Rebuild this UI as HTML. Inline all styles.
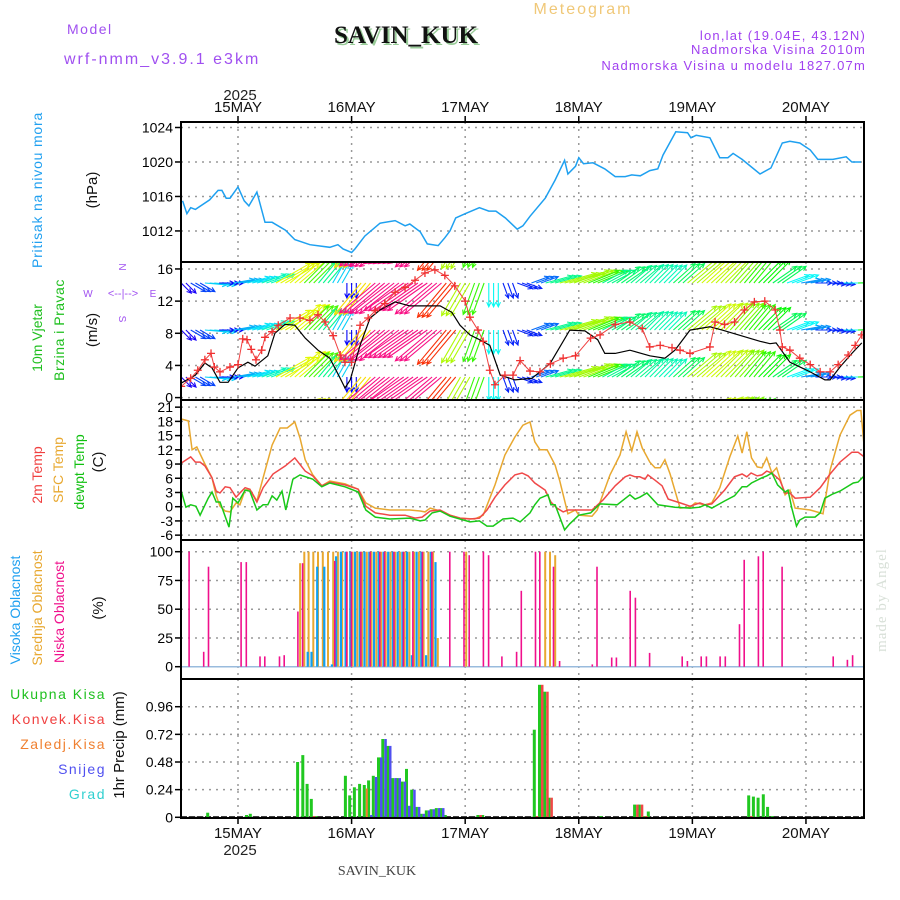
<!DOCTYPE html>
<html><head><meta charset="utf-8"><style>
html,body{margin:0;padding:0;background:#fff;}
svg{display:block;font-family:"Liberation Sans",sans-serif;}
</style></head><body>
<svg id="chart" width="900" height="900" viewBox="0 0 900 900" xmlns="http://www.w3.org/2000/svg">
<rect width="900" height="900" fill="#fff"/>
<defs>
<clipPath id="c1"><rect x="181" y="122" width="683" height="140"/></clipPath>
<clipPath id="c2"><rect x="181" y="262" width="683" height="138"/></clipPath>
<clipPath id="c3"><rect x="181" y="400" width="683" height="140"/></clipPath>
<clipPath id="c4"><rect x="181" y="540" width="683" height="139"/></clipPath>
<clipPath id="c5"><rect x="181" y="679" width="683" height="139"/></clipPath>
</defs>
<!-- header -->
<text x="67" y="34" font-size="14" fill="#a050f0" letter-spacing="1.5">Model</text>
<text x="64" y="64" font-size="16" fill="#a050f0" letter-spacing="2">wrf-nmm_v3.9.1 e3km</text>
<text x="408" y="45" font-size="25" font-weight="bold" font-family="Liberation Serif, serif" text-anchor="middle" fill="#9c9" >SAVIN_KUK</text>
<text x="406" y="43" font-size="25" font-weight="bold" font-family="Liberation Serif, serif" text-anchor="middle" fill="#111">SAVIN_KUK</text>
<text x="583" y="14" font-size="16" fill="#f0c878" text-anchor="middle" letter-spacing="2">Meteogram</text>
<text x="866" y="40" font-size="13" fill="#a040f0" text-anchor="end" letter-spacing="1.2">lon,lat (19.04E, 43.12N)</text>
<text x="866" y="54" font-size="13" fill="#a040f0" text-anchor="end" letter-spacing="1.2">Nadmorska Visina 2010m</text>
<text x="866" y="70" font-size="13" fill="#a040f0" text-anchor="end" letter-spacing="1.2">Nadmorska Visina u modelu 1827.07m</text>
<text x="240" y="100" font-size="15" fill="#222" text-anchor="middle">2025</text>
<!-- left labels -->
<text transform="translate(42,190) rotate(-90)" font-size="14" fill="#20a0f0" text-anchor="middle" letter-spacing="0.8">Pritisak na nivou mora</text>
<text transform="translate(97,190) rotate(-90)" font-size="15" fill="#111" text-anchor="middle">(hPa)</text>
<text transform="translate(42,338) rotate(-90)" font-size="14" fill="#20c020" text-anchor="middle">10m Vjetar</text>
<text transform="translate(64,330) rotate(-90)" font-size="14" fill="#20c020" text-anchor="middle" letter-spacing="0.5">Brzina i Pravac</text>
<text transform="translate(97,330) rotate(-90)" font-size="15" fill="#111" text-anchor="middle">(m/s)</text>
<g fill="#a050f0" stroke="none" font-size="10">
<text x="123" y="271" text-anchor="middle" transform="rotate(90,123,267)">N</text>
<text x="88" y="297" text-anchor="middle">W</text>
<text x="153" y="297" text-anchor="middle">E</text>
<text x="123" y="323" text-anchor="middle" transform="rotate(90,123,319)">S</text>
<text x="123" y="297" text-anchor="middle" font-size="11">&lt;--|--&gt;</text>
</g>
<text transform="translate(42,475) rotate(-90)" font-size="14" fill="#f04040" text-anchor="middle">2m Temp</text>
<text transform="translate(63,470) rotate(-90)" font-size="14" fill="#e8a830" text-anchor="middle">SFC Temp</text>
<text transform="translate(84,472) rotate(-90)" font-size="14" fill="#10c010" text-anchor="middle">dewpt Temp</text>
<text transform="translate(103,462) rotate(-90)" font-size="15" fill="#111" text-anchor="middle">(C)</text>
<text transform="translate(20,610) rotate(-90)" font-size="14" fill="#20a0f0" text-anchor="middle">Visoka Oblacnost</text>
<text transform="translate(42,608) rotate(-90)" font-size="14" fill="#e8a830" text-anchor="middle">Srednja Oblacnost</text>
<text transform="translate(64,612) rotate(-90)" font-size="14" fill="#f0108c" text-anchor="middle">Niska Oblacnost</text>
<text transform="translate(103,608) rotate(-90)" font-size="15" fill="#111" text-anchor="middle">(%)</text>
<text x="106" y="699" font-size="14" fill="#20c020" text-anchor="end" letter-spacing="1.5">Ukupna Kisa</text>
<text x="106" y="724" font-size="14" fill="#f04040" text-anchor="end" letter-spacing="1.5">Konvek.Kisa</text>
<text x="106" y="749" font-size="14" fill="#f08030" text-anchor="end" letter-spacing="1.5">Zaledj.Kisa</text>
<text x="106" y="774" font-size="14" fill="#5050f0" text-anchor="end" letter-spacing="1.5">Snijeg</text>
<text x="106" y="799" font-size="14" fill="#30d0d0" text-anchor="end" letter-spacing="1.5">Grad</text>
<text transform="translate(124,745) rotate(-90)" font-size="15" fill="#111" text-anchor="middle">1hr Precip (mm)</text>
<text x="240" y="855" font-size="15" fill="#222" text-anchor="middle">2025</text>
<text x="377" y="875" font-size="14" font-family="Liberation Serif, serif" fill="#444" text-anchor="middle">SAVIN_KUK</text>
<text transform="translate(886,600) rotate(-90)" font-size="15" font-family="Liberation Serif, serif" fill="#d8e0d8" text-anchor="middle" letter-spacing="1">made by Angel</text>
<g id="grid"></g>
<g id="marks"></g>
<g id="frames"></g>
</svg>
<script>
// ---- data ----
const dayLabels = ["15MAY","16MAY","17MAY","18MAY","19MAY","20MAY"];
const dayHours = [0,24,48,72,96,120];
const presTicks = [1012,1016,1020,1024];
const windTicks = [0,4,8,12,16];
const tempTicks = [-6,-3,0,3,6,9,12,15,18,21];
const cloudTicks = [0,25,50,75,100];
const precipTicks = [0,0.24,0.48,0.72,0.96];
const precipTickLabels = ["0","0.24","0.48","0.72","0.96"];

const presHours = [-11.7,-10.8,-10,-9,-6,-4.2,-3.4,-2.5,-1.7,0,1.3,2.3,4,5.7,7.2,10,12,15.2,19.4,21.1,22.2,24,24.7,26.8,30,33.2,35.3,36.3,38.5,40,42.3,43.7,44.8,46,48,51,53,54.5,56.5,59,60.2,61.7,64.9,67,69,69.7,71.3,72,73,75,77.5,79.7,81.8,83.2,85,87,88.7,89.8,92.5,95,95.7,96.8,99.7,101.8,103.5,104.6,106.5,110.3,112.6,115,116.6,118.7,120.9,122.5,125.7,128.5,129.7,131.6];
const presVals = [1015.5,1014.0,1014.7,1014.5,1015.6,1016.7,1016.7,1015.8,1015.8,1017.1,1015.5,1014.9,1016.5,1013.0,1013.0,1012.1,1011.0,1010.4,1010.1,1010.4,1009.9,1009.5,1009.9,1011.4,1012.9,1013.2,1012.6,1012.8,1011.9,1010.5,1010.3,1011.2,1012.0,1013.5,1014.0,1014.7,1014.3,1014.3,1013.5,1012.2,1012.6,1013.7,1015.8,1017.9,1020.2,1018.6,1019.5,1020.5,1019.8,1019.9,1019.2,1018.3,1018.3,1018.5,1018.4,1019.0,1019.2,1020.8,1023.5,1023.4,1022.8,1023.1,1022.8,1020.5,1020.5,1021.0,1020.3,1018.6,1019.3,1022.2,1022.4,1022.2,1021.4,1020.3,1020.3,1020.6,1020.0,1020.0];

const gustHours = [-12,-10,-8.5,-7,-5.7,-5,-3.8,-1.7,0,1,1.9,2.8,3.8,5,5.7,7.2,8.5,11,13.1,15.2,16.9,18.4,20.1,21.6,22.6,24,25.8,27.5,29,31,33.2,35.3,37.4,39.5,41.6,43.7,45.8,48,49,50.7,51.8,53.2,54.3,56.4,58.1,59.6,61.7,63.8,66,68.7,71.3,74.5,76.5,79.7,82.8,85.4,87,89.2,91.7,93.4,95.5,99.7,100.8,102.8,104.9,107,109.1,111.3,113.5,114.5,115,116.6,118.7,120.9,123,125.1,126.8,128.9,130.4,131.8];
const gustVals = [1.4,2.4,3.4,4.7,5.5,3.8,3.2,3.8,4.1,7.3,7.2,6.0,4.7,5.9,7.5,8.2,9.0,9.9,9.9,9.6,10.3,9.4,7.7,5.3,4.4,4.4,9.0,9.9,10.8,11.7,13.1,13.7,14.6,15.5,15.9,15.2,13.9,12.0,10.0,8.4,7.0,3.4,1.6,2.8,2.8,4.6,3.3,3.2,4.2,4.9,5.2,7.4,7.8,9.1,9.4,8.6,6.3,6.5,6.2,5.9,5.5,6.3,9.4,9.1,9.4,10.9,11.9,12.0,10.9,8.4,6.3,5.9,4.9,4.1,3.2,3.2,4.1,5.3,6.5,7.8];

const meanHours = [-12,-9,-7,-5.5,-3.8,-2.1,0,2.1,3.6,6.3,7.8,9.9,12,14.2,16.9,19.4,21.6,22.6,23.7,25.8,27.9,30,33.2,36.3,39.5,42.7,45.2,46.9,49,50.7,53.2,55.4,58.5,62.1,65.9,70.1,73.3,76,77.5,79.7,82.8,87,90.2,92.3,95.5,99.7,102.3,110.3,112.4,113.7,116.6,120.9,124,125.1,127.2,129.7,131.8];
const meanVals = [1.8,2.8,4.3,3.7,1.9,1.9,3.7,4.4,3.9,5.2,8.0,9.1,9.0,7.4,5.9,4.9,2.4,1.2,2.2,6.5,9.9,10.9,11.9,11.4,11.4,11.4,10.6,9.0,7.8,7.3,6.5,2.8,2.2,2.4,4.2,8.4,8.3,7.2,5.5,5.5,5.9,5.2,4.9,5.9,8.4,8.8,8.4,7.0,6.7,6.8,4.4,3.2,2.2,2.2,3.8,5.5,6.8];

const windHours = [-12,-9,-6,-3,0,3,6,9,12,15,18,21,24,27,30,33,36,39,42,45,48,51,54,57,60,63,66,69,72,75,78,81,84,87,90,93,96,99,102,105,108,111,114,117,120,123,126,129,132];
const windDir = [135,120,95,90,80,75,70,60,50,45,40,30,180,220,230,232,235,235,230,220,210,200,180,160,110,70,75,75,70,68,62,55,50,45,45,48,50,48,45,42,40,45,55,70,80,90,95,90,88];
const windSpd = [1.8,2.6,4.0,2.0,3.7,4.2,5.0,9.0,9.0,7.5,5.5,4.0,2.0,9.5,11,11.9,11.5,11.4,11.4,10.5,8.5,7.3,4.5,2.3,2.3,3.0,5.5,8.4,8.3,7.2,5.5,5.8,5.5,5.2,5.0,6.0,8.4,8.8,8.6,8.0,7.2,6.8,6.0,4.4,3.4,2.4,2.3,4.5,6.8];

const t2Hours = [-12,-10,-9,-8,-7,-5.5,-4.6,-3.8,-2.7,-1.7,-0.4,0.4,1.5,2.5,4,5.3,7.4,10,12,14.2,15.8,17.7,19.4,22.6,25.4,27,29,32.1,35.3,37.4,38.9,40.6,42.7,44.8,46.9,49,51,52.6,54.3,56.4,58.5,60,61.3,62.7,64.9,66.1,67.4,68.7,69.7,72,74.8,77.1,79.7,81.8,82.8,83.9,84.9,86,86.6,88.1,89.6,90.9,93.4,95.5,97.6,98.7,100.1,102.8,104.9,106.5,107.5,108.4,109.7,110.7,111.7,112.8,114.5,115.6,116.6,117.7,120.9,123,125.1,127.2,129.7,131,132.3];
const t2Vals = [9.2,10.5,9.4,9.4,8.6,6.1,3.3,2.9,4.2,4.0,2.0,2.9,4.0,3.7,1.0,4.0,6.9,8.6,10.3,7.5,6.5,4.4,5.2,4.6,3.7,0.1,-1.3,-1.8,-1.8,-2.4,-2.2,-0.9,-0.7,-1.8,-2.4,-2.6,-2.4,-0.7,2.0,4.6,6.7,7.1,6.5,5.0,3.5,1.0,-0.3,-1.1,-0.7,-0.7,-0.7,1.4,4.4,6.3,6.7,6.3,6.3,5.8,6.7,5.6,4.4,1.6,0.8,0.1,0.8,0.4,0.6,3.5,6.3,6.9,6.3,7.1,6.5,6.7,7.5,7.1,5.6,2.9,2.9,1.8,2.0,4.0,6.9,9.4,11.5,11.5,10.5];

const sfcHours = [-12,-10.5,-9.7,-8.7,-7,-5.5,-4.6,-3.8,-2.7,-1.7,-0.4,0.4,1.5,2.5,4,5.3,7.2,8.9,10.4,12,13.1,14.2,15.8,17.7,19.4,22.6,25.4,27,29,32.1,36.3,38.5,39.5,40.6,42.7,44.8,46.9,50,51.8,53.2,54.3,56.4,58.5,60.2,61.7,62.7,63.8,65.3,67,68,69.7,71.3,72,74.8,75.9,78.6,80.7,82,83.2,84.3,85.4,87,88.1,89.2,90.2,91.3,93.4,95.5,96.6,98.7,100.1,101.8,103.9,105.6,106.5,107.5,108.5,109.7,110.7,111.7,112.8,113.8,115.6,116.6,117.7,120.9,123,123.6,125.1,127.2,129.3,130.8,131.6,132.3];
const sfcVals = [18.5,18.1,12,12.6,9.0,6.1,2.3,0.1,-0.9,-1.1,0.8,0.4,3.5,3.7,1.2,6.1,13,16.6,16.6,17.9,14.5,9.9,6.7,4.4,5.4,4.8,3.7,0.8,-0.3,-0.7,-0.7,-0.9,-1.1,-0.3,-0.9,-1.8,-2.4,-2.6,-1.8,1.8,4.6,10.9,14.7,17.2,17.9,13.7,12,12,8.8,5.4,-1.5,-0.7,-1.8,-2.0,-0.7,6.7,10.9,15.8,11.8,15.8,12.4,9.4,8.2,8.2,9.9,6.9,-0.3,-0.1,0.8,0.4,0.8,4.0,10.5,14.9,11.3,15.8,10.3,8.4,8.2,10.3,7.1,8.2,2.5,3.5,-0.3,-0.7,-1.3,-1.5,7.7,15.1,19.3,20.3,20.3,12.6];

const dewHours = [-12,-11,-10,-8.9,-8,-6.3,-5.5,-4.6,-3.8,-1.9,-1.1,0,1.5,2.5,4,5.3,6.3,7.2,8.2,9.3,10.1,11.6,13.1,15.8,17.7,19.4,22.6,25.4,27,29,32.1,36.3,38.5,39.5,41,42.7,44.8,49,51,52.6,53.9,56,58.1,59.6,61.7,62.7,63.8,65.5,66.1,67,69,70.1,72,74.5,76.5,80.1,82.8,83.9,84.9,86.4,88.7,92.3,95.5,97.6,98.7,100.1,102.8,104.9,106.5,107.5,108.5,110.7,111.7,112.8,114,115.6,116.2,117,118,118.7,119.8,121.9,123,124,125.7,127.2,130,131,132.3];
const dewVals = [3.3,-0.1,0.4,0.1,-1.8,1.8,3.1,1.0,1.0,-4.3,1.8,0.8,3.5,3.3,-0.7,0.4,0.4,2.3,1.4,3.3,-0.7,5.8,6.7,5.8,4.2,5.0,4.2,3.1,-0.7,-2.2,-2.6,-2.4,-3.0,-2.8,-1.3,-0.9,-2.0,-3.2,-3.0,-4.1,-4.1,-2.6,-2.4,-3.2,-1.3,0.4,1.8,2.5,0.4,0.4,-4.9,-3.6,-1.8,-1.3,0.6,0.4,2.5,1.6,2.0,2.9,0.4,-0.1,-0.3,-0.1,0.4,-0.3,1.2,2.3,4.2,4.2,5.0,6.1,6.5,7.1,4.6,3.1,3.5,-0.3,-4.1,-2.8,-2.2,-2.2,-1.3,1.8,2.7,3.3,5.0,5.2,6.5];

const lowHours = [-10.3,-7.2,-6.2,0.7,1.8,4.7,5.7,8.8,9.8,12.7,13.7,20.5,23,24,26,28,30,31,33,35,37,39,41,44.8,47.8,48.9,51.9,53,55.8,58.9,59.9,62.9,63.8,66.7,68,74.9,75.9,79,80,82.9,84,87,93.9,95,97.9,99,101.9,103,106,107,110,111,115,125.8,128.8,129.9];
const lowVals = [100,13,87,91,91,9,9,9,10,48,90,92,100,100,100,100,100,100,100,100,100,100,100,100,100,97,100,97,9,13,66,100,100,87,5,2,87,8,8,66,60,12,9,5,9,9,9,9,37,93,96,100,87,9,6,10];
const midHours = [12.9,13.8,14.7,15.7,16.7,17.7,18.8,19.9,20.9,21.8,22.8,24,25,26,27,28,29,30,31,32,33,34,35,36,37,38,39,40,41,42,48,64.7,65.7,66.8];
const midVals = [90,100,100,100,100,100,100,100,100,100,100,100,100,100,100,100,100,100,100,100,100,100,100,100,100,100,100,100,100,25,100,100,100,97];
const highHours = [14.5,15.3,16.5,18,19.6,20.5,21.5,22.5,23.5,24.5,25.5,26.5,27.5,28.5,29.5,30.5,31.5,32.5,33.5,34.5,35.5,36.5,37.5,38.5,39.5,40.5,41.5];
const highVals = [13,13,87,87,2,96,100,100,100,100,100,100,100,100,100,100,100,100,100,100,100,10,100,100,10,100,91];

const precipHours = [-6.3,1.9,2.7,12.7,13.8,14.7,15.6,16.6,22.8,23.7,24.7,25.8,26.8,27.7,28.7,29.8,30.7,31.7,32.8,33.7,34.8,35.7,36.8,37.8,38.8,39.9,40.9,42,42.9,43.9,50.8,51.8,62.7,63.8,64.9,65.8,76.8,83.9,84.9,85.8,86.8,108,109,110,111.1,112,113];
const totalVals = [0.04,0.02,0.03,0.48,0.54,0.29,0.16,0.01,0.36,0.19,0.26,0.29,0.28,0.32,0.36,0.52,0.68,0.62,0.34,0.34,0.31,0.42,0.24,0.09,0.03,0.06,0.07,0.08,0.08,0.02,0.02,0.02,0.76,1.15,1.09,0.17,0.01,0.11,0.11,0.01,0.05,0.19,0.18,0.17,0.2,0.09,0.01];
const convVals = [0,0,0,0,0,0,0.01,0,0,0,0,0,0,0,0,0,0,0,0,0,0,0,0,0,0,0,0,0,0,0,0.02,0,0.01,1.15,1.09,0.17,0,0.11,0.11,0.01,0,0.01,0,0,0,0,0];
const snowVals = [0,0,0,0,0,0,0,0,0,0,0,0,0,0.02,0.35,0.52,0.68,0.62,0.34,0.34,0.31,0.1,0.24,0.09,0.03,0.06,0.07,0.08,0.08,0,0,0,0,0,0,0,0,0,0,0,0,0,0,0,0,0,0];
const frzVals = [0,0,0,0,0,0,0,0,0,0,0,0,0.25,0,0,0,0,0,0,0,0,0,0,0,0,0,0,0,0,0,0,0,0,0,0,0,0,0,0,0,0,0,0,0,0,0,0];

// ---- axes ----
const L=181,R=864;
const X = t => 238 + t*4.733;
const yP = p => 127.5 + (1024-p)*8.62;
const yW = v => 397.6 - v*8.04;
const yT = v => 506.7 - v*4.74;
const yC = v => 666.7 - v*1.15;
const yR = v => 817.3 - v*115.2;
const NS="http://www.w3.org/2000/svg";
function mk(tag, attrs, parent){const e=document.createElementNS(NS,tag);for(const k in attrs)e.setAttribute(k,attrs[k]);parent.appendChild(e);return e;}
const grid=document.getElementById('grid'), marks=document.getElementById('marks'), frames=document.getElementById('frames');
const panels=[[122,262],[262,400],[400,540],[540,679],[679,818]];

panels.forEach(([a,b])=>{dayHours.forEach(h=>{
  const ln=mk('line',{x1:X(h),x2:X(h),y1:a,y2:b,stroke:'#999','stroke-width':1.5,'stroke-dasharray':'2,5'},grid);
  
  
});});
function hticks(ticks,yf,labels,name){ticks.forEach((v,i)=>{
  const y=yf(v);
  const ln=mk('line',{x1:L,x2:R,y1:y,y2:y,stroke:'#999','stroke-width':1.5,'stroke-dasharray':'2,5'},grid);
  
  
  mk('line',{x1:L-6,x2:L,y1:y,y2:y,stroke:'#000','stroke-width':1.5},frames);
  const t=mk('text',{x:L-8,y:y+5,'font-size':14,'text-anchor':'end',fill:'#000'},frames);
  t.textContent=labels?labels[i]:String(v);
  
  
});}
hticks(presTicks,yP,null,'pressure');
hticks(windTicks,yW,null,'wind');
hticks(tempTicks,yT,null,'temp');
hticks(cloudTicks,yC,null,'cloud');
hticks(precipTicks,yR,precipTickLabels,'precip');

dayHours.forEach((h,i)=>{
  [[112,'top'],[838,'bottom']].forEach(([y,w])=>{
    const t=mk('text',{x:X(h),y:y,'font-size':15,'text-anchor':'middle',fill:'#111'},frames);
    t.textContent=dayLabels[i];
    
    
  });
  mk('line',{x1:X(h),x2:X(h),y1:116,y2:122,stroke:'#000','stroke-width':1.5},frames);
  mk('line',{x1:X(h),x2:X(h),y1:818,y2:824,stroke:'#000','stroke-width':1.5},frames);
});

function line(hs,vs,yf,color,clip,name,w){
  const pts=hs.map((h,i)=>X(h).toFixed(1)+','+yf(vs[i]).toFixed(1)).join(' ');
  const p=mk('polyline',{points:pts,fill:'none',stroke:color,'stroke-width':w||1.5,'clip-path':'url(#'+clip+')'},marks);
  
  
  return p;
}
line(presHours,presVals,yP,'#1ea0f0','c1','pressure-line');

// wind arrows
function spdColor(s){
  let h;
  if(s<=9.5) h=240-(s-2)*25;
  else if(s<=10.5) h=40-(s-9.5)*30;
  else h=330;
  if(h<0)h+=360;
  return 'hsl('+h.toFixed(0)+',95%,'+(h>300?'52%':'50%')+')';
}
const wg=mk('g',{'clip-path':'url(#c2)'},marks);


const rowBases=[236,283,330,377,424];
for(let h=-12;h<=132;h++){
  let k=0,best=1e9;windHours.forEach((wh,i)=>{const d=Math.abs(wh-h);if(d<best){best=d;k=i;}});
  const dir=windDir[k]*Math.PI/180, s=windSpd[k], Lg=8+3.5*s, col=spdColor(s);
  const dx=Math.sin(dir)*Lg, dy=-Math.cos(dir)*Lg;
  rowBases.forEach(yb=>{
    const x0=X(h),x1=x0+dx,y1=yb+dy;
    const a=Math.atan2(dy,dx);
    const hx1=x1-5*Math.cos(a-0.45),hy1=y1-5*Math.sin(a-0.45),hx2=x1-5*Math.cos(a+0.45),hy2=y1-5*Math.sin(a+0.45);
    mk('path',{d:`M${x0.toFixed(1)},${yb}L${x1.toFixed(1)},${y1.toFixed(1)}M${hx1.toFixed(1)},${hy1.toFixed(1)}L${x1.toFixed(1)},${y1.toFixed(1)}L${hx2.toFixed(1)},${hy2.toFixed(1)}`,stroke:col,'stroke-width':1.1,fill:'none'},wg);
  });
}
line(meanHours,meanVals,yW,'#000','c2','mean-wind-line',1.2);
line(gustHours,gustVals,yW,'#f04040','c2','gust-wind-line',1);
const gm=mk('g',{stroke:'#f03030','stroke-width':1.3,'clip-path':'url(#c2)'},marks);


gustHours.forEach((h,i)=>{const x=X(h),y=yW(gustVals[i]);mk('path',{d:`M${x-4},${y}h8M${x},${y-4}v8`},gm);});

line(sfcHours,sfcVals,yT,'#e8a830','c3','sfc-temp-line');
line(t2Hours,t2Vals,yT,'#f04848','c3','temp-2m-line');
line(dewHours,dewVals,yT,'#18c818','c3','dewpoint-line');

mk('line',{x1:L,x2:R,y1:yC(0),y2:yC(0),stroke:'#9bd',"stroke-width":1.5},marks);
function bars(hs,vs,yf,base,color,off,w,clip,name){
  const g=mk('g',{fill:color,'clip-path':'url(#'+clip+')'},marks);
  
  
  hs.forEach((h,i)=>{if(vs[i]<=0)return;const y=yf(vs[i]);mk('rect',{x:(X(h)+off).toFixed(1),y:y.toFixed(1),width:w,height:Math.max(0.5,base-y).toFixed(1)},g);});
}
bars(midHours,midVals,yC,yC(0),'#e8a830',0,2,'c4','mid-cloud-bars');
bars(highHours,highVals,yC,yC(0),'#10a0f0',0,2.2,'c4','high-cloud-bars');
bars(lowHours,lowVals,yC,yC(0),'#f0108c',-1,1.6,'c4','low-cloud-bars');

mk('line',{x1:L,x2:R,y1:yR(0),y2:yR(0),stroke:'#000','stroke-width':2,'stroke-dasharray':'6,2'},marks);
bars(precipHours,totalVals,yR,yR(0),'#20c820',-2,3,'c5','total-precip-bars');
bars(precipHours,convVals,yR,yR(0),'#f04848',1,2.5,'c5','convective-precip-bars');
bars(precipHours,snowVals,yR,yR(0),'#5050f0',1,2.5,'c5','snow-bars');
bars(precipHours,frzVals,yR,yR(0),'#f08030',1,2,'c5','freezing-precip-bars');

panels.forEach(([a,b],i)=>{
  const r=mk('rect',{x:L,y:a,width:R-L,height:b-a,fill:'none',stroke:'#000','stroke-width':2},frames);
  
  
});
</script>
</body></html>
